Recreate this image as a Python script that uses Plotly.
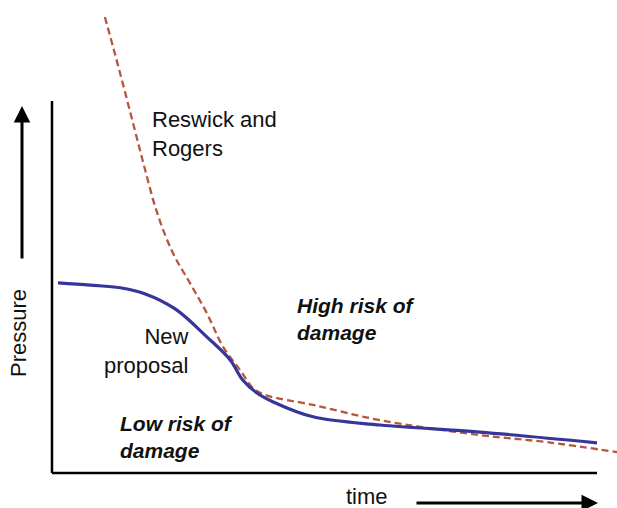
import plotly.graph_objects as go

# ---- data (arbitrary units: time 0..10 along axis, pressure 0..10 up the axis) ----
new_time = [0.11, 0.70, 1.25, 1.70, 2.26, 2.84, 3.27, 3.50, 3.76, 4.06, 4.79, 6.02, 7.85, 10.0]
new_pressure = [5.11, 5.05, 4.98, 4.82, 4.41, 3.66, 3.04, 2.50, 2.15, 1.91, 1.51, 1.29, 1.10, 0.81]

rr_time = [0.97, 1.16, 1.34, 1.52, 1.70, 1.93, 2.22, 2.53, 2.84, 3.14, 3.45, 3.69, 3.91, 4.79, 6.02, 7.85, 9.08, 10.37]
rr_pressure = [12.26, 11.24, 10.24, 9.22, 8.20, 6.99, 5.91, 5.11, 4.30, 3.39, 2.77, 2.28, 2.10, 1.83, 1.42, 1.02, 0.83, 0.56]

W, H = 617, 508
X_RANGE = [-0.954, 10.367]
Y_RANGE = [-0.941, 12.715]


def px(x):
    return x / W


def py(y):
    return 1 - y / H


FONT = "Liberation Sans, Arial, sans-serif"
TXT = "#111111"

fig = go.Figure()
fig.add_trace(go.Scatter(x=rr_time, y=rr_pressure, mode="lines",
                         line=dict(color="#b5573f", width=2.3, dash="7px,4px", shape="spline", smoothing=1.0),
                         hoverinfo="skip", showlegend=False))
fig.add_trace(go.Scatter(x=new_time, y=new_pressure, mode="lines",
                         line=dict(color="#35359a", width=3.2, shape="spline", smoothing=1.0),
                         hoverinfo="skip", showlegend=False))

# axes lines
fig.add_shape(type="line", x0=0, y0=0, x1=0, y1=10, line=dict(color="black", width=2.5))
fig.add_shape(type="line", x0=0, y0=0, x1=10, y1=0, line=dict(color="black", width=2.5))

ann = []
# arrows
ann.append(dict(xref="paper", yref="paper", x=px(22), y=py(106), axref="pixel", ayref="pixel",
                ax=0, ay=154, text="", showarrow=True, arrowhead=2, arrowsize=1.1,
                arrowwidth=3, arrowcolor="black", standoff=0, startstandoff=0))
ann.append(dict(xref="paper", yref="paper", x=px(598), y=py(503), axref="pixel", ayref="pixel",
                ax=-183, ay=0, text="", showarrow=True, arrowhead=2, arrowsize=1.1,
                arrowwidth=3, arrowcolor="black", standoff=0, startstandoff=0))


def label(text, x, y, size, xanchor="left", align="left", bold=False, italic=False, angle=0):
    t = text
    if bold:
        t = "<b>" + t + "</b>"
    if italic:
        t = "<i>" + t + "</i>"
    ann.append(dict(xref="paper", yref="paper", x=px(x), y=py(y), text=t, showarrow=False,
                    xanchor=xanchor, yanchor="middle", align=align, textangle=angle,
                    font=dict(family=FONT, size=size, color=TXT)))


label("Reswick and<br>Rogers", 150, 134, 22)
label("New<br>proposal", 190, 351, 22, xanchor="right", align="right")
label("High risk of<br>damage", 295, 319, 21, bold=True, italic=True)
label("Low risk of<br>damage", 118, 437, 21, bold=True, italic=True)
label("Pressure", 18, 333, 22, xanchor="center", angle=-90)
label("time", 367, 496, 22, xanchor="center")

fig.update_layout(
    width=W, height=H,
    margin=dict(l=0, r=0, t=0, b=0),
    paper_bgcolor="white", plot_bgcolor="white",
    xaxis=dict(range=X_RANGE, visible=False, fixedrange=True),
    yaxis=dict(range=Y_RANGE, visible=False, fixedrange=True),
    annotations=ann,
    showlegend=False,
)

fig.write_html("out.html", config={"displayModeBar": False, "staticPlot": True},
               post_script="document.body.style.margin='0';document.body.style.overflow='hidden';")
